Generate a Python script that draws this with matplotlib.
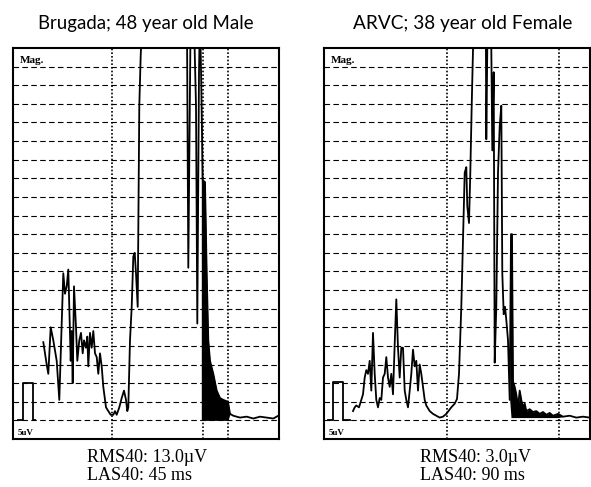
import numpy as np
import matplotlib
matplotlib.use("Agg")
import matplotlib.pyplot as plt

# ---------------- data (x: time units across frame, y: grid units) ----------
left_cal_x = [5.3, 9.7, 9.7, 20.3, 20.3, 22.0]
left_cal_y = [1.0, 1.0, 3.0, 3.0, 1.0, 1.0]

left_x = [30.3, 33.7, 35.3, 37.7, 40.3, 43.7, 46.3, 48.7, 50.3, 52.0, 53.7, 55.3, 56.3,
          57.7, 58.7, 59.7, 61.0, 63.0, 64.3, 66.3, 68.0, 69.7, 71.0, 73.0, 74.3, 75.3,
          77.0, 78.7, 80.3, 82.0, 83.7, 85.3, 87.0, 88.7, 90.3, 93.0, 95.3, 97.7, 100.3,
          102.0, 103.7, 106.3, 108.7, 111.0, 113.0, 114.3, 115.3, 117.0, 118.7, 120.3,
          121.7, 123.0, 124.7, 126.3, 127.7, 129.7, 150.0, 173.7, 175.3, 177.7, 180.3,
          183.0, 184.3, 186.0, 187.0, 188.3, 189.7, 192.0, 193.7, 195.3, 197.0, 200.3,
          203.7, 207.0, 210.3, 215.0, 217.0, 220.3, 227.0, 233.7, 240.3, 247.0, 253.7,
          260.3, 265.3]
left_y = [5.2, 4.0, 3.5, 6.0, 5.3, 4.2, 2.1, 6.2, 8.9, 7.8, 8.2, 9.1, 7.1,
          4.2, 5.8, 3.0, 8.2, 6.0, 4.2, 5.3, 5.7, 4.6, 5.3, 4.9, 5.5, 3.9,
          5.7, 4.9, 5.8, 4.6, 4.4, 3.5, 4.6, 3.9, 2.8, 1.7, 1.5, 1.3, 1.3,
          1.5, 1.3, 1.7, 2.2, 2.6, 2.1, 1.5, 1.7, 5.3, 7.1, 9.8,
          10.0, 8.9, 7.1, 17.9, 20.6, 23.0, 30.0, 25.0, 9.2, 23.0, 24.0,
          17.9, 6.2, 19.7, 23.0, 18.9, 13.9, 13.8, 8.9, 5.3, 4.2, 3.5,
          2.6, 2.2, 2.1, 2.0, 1.35, 1.25, 1.15, 1.2, 1.1, 1.2, 1.15,
          1.1, 1.25]

right_cal_x = [4.0, 9.0, 9.0, 19.0, 19.0, 25.7]
right_cal_y = [1.0, 1.0, 3.05, 3.05, 1.0, 1.0]

right_x = [29.0, 30.7, 32.3, 35.0, 37.3, 39.0, 40.7, 42.3, 44.0, 45.7, 47.3, 49.0, 50.7,
           52.3, 54.0, 55.7, 57.3, 59.0, 60.7, 62.3, 64.0, 65.7, 67.3, 69.0, 70.7, 72.3,
           74.0, 75.7, 77.3, 79.0, 80.7, 82.3, 84.0, 85.7, 87.3, 89.0, 90.7, 92.3, 94.0,
           95.7, 97.3, 99.0, 100.7, 102.3, 105.7, 109.0, 112.3, 115.7, 119.0, 122.3, 127.3,
           130.7, 133.0, 135.0, 137.3, 139.0, 140.7, 142.3, 143.3, 145.0, 146.3, 147.7,
           149.0, 150.3, 155.0, 161.7, 162.3, 163.3, 167.3, 168.3, 169.7, 170.7, 172.3,
           174.0, 175.7, 177.3, 178.3, 179.7, 181.0, 182.3, 184.0, 185.7, 187.0, 188.0,
           189.0, 190.7, 192.3, 194.0, 195.7, 197.3, 199.0, 200.7, 202.3, 205.7, 209.0,
           212.3, 215.7, 219.0, 222.3, 225.7, 229.0, 234.0, 239.0, 245.7, 252.3, 259.0,
           265.7]
right_y = [1.5, 1.7, 1.8, 1.7, 2.1, 2.4, 3.3, 3.7, 3.5, 4.2, 2.6, 5.7, 3.5,
           2.1, 1.7, 2.2, 2.1, 3.3, 3.5, 4.4, 3.3, 2.8, 3.5, 2.4, 5.1, 7.5,
           4.9, 3.3, 4.9, 4.9, 2.6, 2.1, 1.7, 2.6, 3.5, 4.8, 3.9, 4.2, 2.6,
           4.0, 3.5, 2.8, 2.1, 1.8, 1.5, 1.35, 1.25, 1.15, 1.2, 1.35, 1.7,
           1.9, 2.15, 3.5, 7.1, 10.7, 14.3, 14.6, 12.5, 11.6, 14.3, 17.9,
           20.9, 23.0, 30.0, 24.0, 16.1, 21.0, 21.0, 15.5, 19.7, 4.1, 7.1,
           14.3, 16.8, 17.9, 8.9, 6.7, 7.1, 6.4, 5.3, 2.1, 11.0, 11.0,
           3.1, 2.8, 2.4, 1.7, 2.6, 2.1, 1.7, 1.9, 1.5, 1.6, 1.45,
           1.5, 1.35, 1.45, 1.3, 1.4, 1.25, 1.35, 1.2, 1.25, 1.15, 1.2,
           1.15]

panels = [
    dict(title="Brugada; 48 year old Male", cal_x=left_cal_x, cal_y=left_cal_y,
         x=left_x, y=left_y, fill=(188.3, 215.0), fill_base=1.0,
         vlines=[99, 190, 215], rms="RMS40: 13.0\u00b5V", las="LAS40: 45 ms"),
    dict(title="ARVC; 38 year old Female", cal_x=right_cal_x, cal_y=right_cal_y,
         x=right_x, y=right_y, fill=(187.0, 236.0), fill_base=1.15,
         vlines=[123, 235], rms="RMS40: 3.0\u00b5V", las="LAS40: 90 ms"),
]

W, H = 591, 487
fig = plt.figure(figsize=(W / 100, H / 100), dpi=100)
serif = ["Liberation Serif", "DejaVu Serif"]
sans = ["Lato", "DejaVu Sans"]

ax_left_px = [13, 324]
title_x_px = [146, 463]
title_w_px = [215, 219]
text_x_px = [87, 420]
for i, p in enumerate(panels):
    ax = fig.add_axes([ax_left_px[i] / W, (H - 439) / H, 266 / W, 391 / H])
    ax.set_xlim(0, 266)
    ax.set_ylim(0, 21)
    ax.set_xticks([])
    ax.set_yticks([])
    for s in ax.spines.values():
        s.set_linewidth(1.5)
        s.set_color("black")
    for g in range(1, 21):
        ax.axhline(g, color="black", lw=0.8, ls=(0, (5, 3)), zorder=1)
    for v in p["vlines"]:
        ax.axvline(v, color="black", lw=1.2, ls=(0, (1, 1.2)), zorder=1)
    ax.plot(p["cal_x"], p["cal_y"], color="black", lw=1.3, zorder=3)
    x = np.array(p["x"])
    y = np.array(p["y"])
    ax.plot(x, y, color="black", lw=1.3, zorder=3)
    f0, f1 = p["fill"]
    ax.fill_between(x, y, p["fill_base"], where=(x >= f0) & (x <= f1),
                    interpolate=True, color="black", lw=0, zorder=2)
    ax.text(7 / 266, 1 - 8 / 391, "Mag.", transform=ax.transAxes, fontsize=8,
            fontweight="bold", family=serif, va="top", ha="left")
    ax.text(5 / 266, 2 / 391, "5uV", transform=ax.transAxes, fontsize=6.5,
            fontweight="bold", family=serif, va="bottom", ha="left")

    t = fig.text(title_x_px[i] / W, 1 - 24 / H, p["title"], ha="center", va="center",
                 fontsize=13, family=sans)
    fig.text(text_x_px[i] / W, 1 - 457 / H, p["rms"], ha="left", va="center",
             fontsize=13, family=serif)
    fig.text(text_x_px[i] / W, 1 - 476 / H, p["las"], ha="left", va="center",
             fontsize=13, family=serif)

    # fit title width to the reference width
    r = fig.canvas.get_renderer()
    w = t.get_window_extent(r).width
    t.set_fontsize(13 * title_w_px[i] / w)

fig.savefig("out.png", dpi=100)
